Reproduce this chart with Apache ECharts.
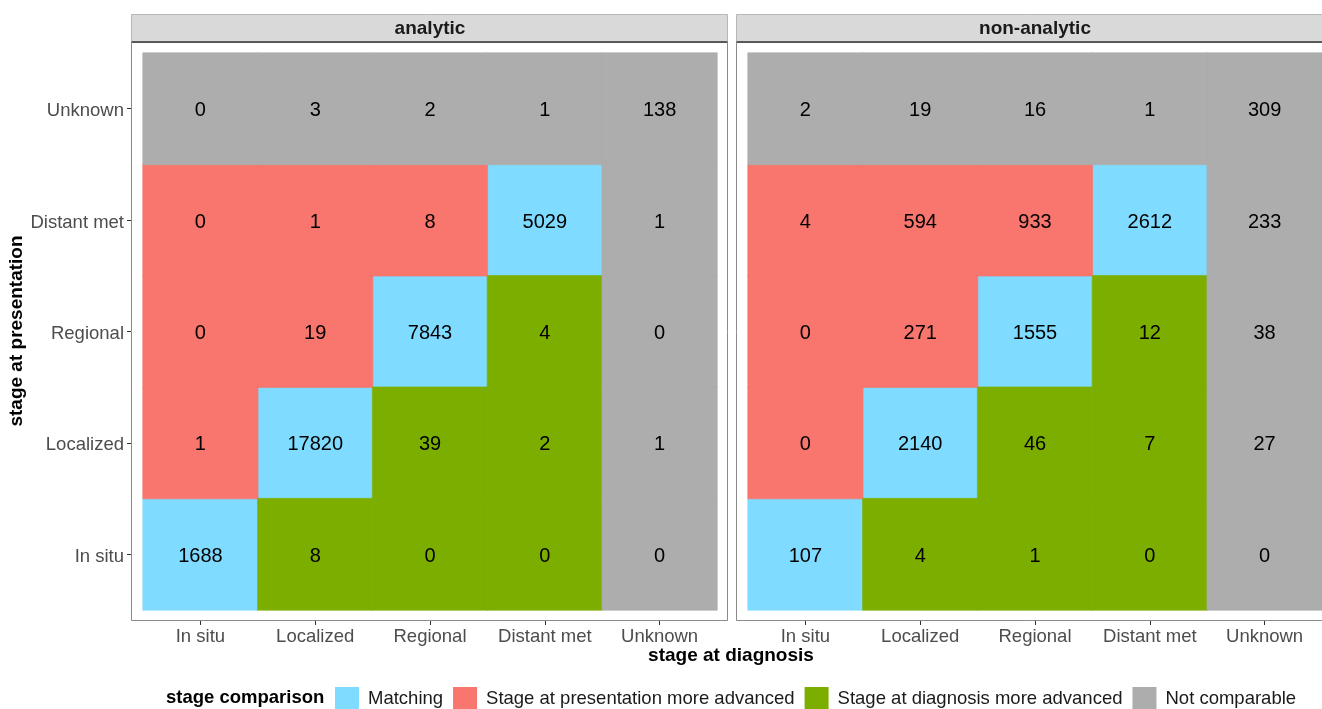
<!DOCTYPE html>
<html>
<head>
<meta charset="utf-8">
<script src="https://cdn.jsdelivr.net/npm/echarts@6/dist/echarts.min.js"></script>
<style>
  html, body { margin: 0; padding: 0; background: #fff; }
  #chart { width: 1322px; height: 709px; }
</style>
</head>
<body>
<div id="chart"></div>
<script>
var stages = ['In situ', 'Localized', 'Regional', 'Distant met', 'Unknown'];
var panels = ['analytic', 'non-analytic'];

// rows = stage at presentation (In situ .. Unknown), cols = stage at diagnosis
var analyticCounts = [
  [1688, 8, 0, 0, 0],
  [1, 17820, 39, 2, 1],
  [0, 19, 7843, 4, 0],
  [0, 1, 8, 5029, 1],
  [0, 3, 2, 1, 138]
];
var nonAnalyticCounts = [
  [107, 4, 1, 0, 0],
  [0, 2140, 46, 7, 27],
  [0, 271, 1555, 12, 38],
  [4, 594, 933, 2612, 233],
  [2, 19, 16, 1, 309]
];

var groups = ['Matching', 'Stage at presentation more advanced', 'Stage at diagnosis more advanced', 'Not comparable'];
var groupColors = ['#7FDBFF', '#F8766D', '#7CAE00', '#ADADAD'];

var FONT = '"Liberation Sans", Arial, sans-serif';

function groupOf(x, y) {
  if (x == 4 || y == 4) return 3;
  if (x == y) return 0;
  if (y > x) return 1;
  return 2;
}

var chart = echarts.init(document.getElementById('chart'));

var gridBoxes = [
  {left: 143, top: 53, width: 574, height: 557},
  {left: 748, top: 53, width: 574, height: 557}
];

var xAxes = [], yAxes = [], series = [];
[analyticCounts, nonAnalyticCounts].forEach(function(counts, p) {
  xAxes.push({
    gridIndex: p,
    type: 'category',
    data: stages,
    offset: 11,
    axisLine: {show: false},
    axisTick: {show: true, alignWithLabel: true, length: 4, lineStyle: {color: '#333', width: 1}},
    axisLabel: {color: '#4d4d4d', fontSize: 18.5, fontFamily: FONT, margin: 6, interval: 0, hideOverlap: false},
    splitLine: {show: false}
  });
  yAxes.push({
    gridIndex: p,
    type: 'category',
    data: stages,
    offset: 12,
    axisLine: {show: false},
    axisTick: {show: p == 0, alignWithLabel: true, length: 4, lineStyle: {color: '#333', width: 1}},
    axisLabel: {
      show: p == 0, interval: 0, margin: 7,
      formatter: function(v) { return '{t|' + v + '}'; },
      rich: {t: {color: '#4d4d4d', fontSize: 18.5, fontFamily: FONT, padding: [5, 0, 0, 0]}}
    },
    splitLine: {show: false}
  });
  groups.forEach(function(g, gi) {
    var data = [];
    counts.forEach(function(row, y) {
      row.forEach(function(v, x) {
        if (groupOf(x, y) == gi) data.push([x, y, v]);
      });
    });
    series.push({
      name: g,
      type: 'heatmap',
      xAxisIndex: p,
      yAxisIndex: p,
      data: data,
      itemStyle: {color: groupColors[gi], borderColor: groupColors[gi], borderWidth: 0.6},
      emphasis: {disabled: true},
      label: {
        show: true,
        color: '#000',
        fontSize: 20,
        fontFamily: FONT,
        offset: [0, 2],
        formatter: function(d) { return d.value[2]; }
      }
    });
  });
});

var graphics = [];
var frames = [
  {x: 131.5, w: 596},
  {x: 736.5, w: 596}
];
frames.forEach(function(f, i) {
  graphics.push({
    type: 'rect', shape: {x: f.x, y: 42.5, width: f.w, height: 578},
    style: {fill: null, stroke: '#8a8a8a', lineWidth: 1}, z: 10
  });
  graphics.push({
    type: 'rect', shape: {x: f.x, y: 14.5, width: f.w, height: 28},
    style: {fill: '#d9d9d9', stroke: '#b8b8b8', lineWidth: 1}, z: 10
  });
  graphics.push({
    type: 'line', shape: {x1: f.x, y1: 42, x2: f.x + f.w, y2: 42},
    style: {stroke: '#333', lineWidth: 1.5}, z: 11
  });
  graphics.push({
    type: 'text', x: gridBoxes[i].left + gridBoxes[i].width / 2, y: 28.5,
    style: {text: panels[i], fill: '#1a1a1a', font: 'bold 19px ' + FONT, textAlign: 'center', textVerticalAlign: 'middle'},
    z: 12
  });
});
graphics.push({
  type: 'text', x: 731, y: 656,
  style: {text: 'stage at diagnosis', fill: '#000', font: 'bold 19px ' + FONT, textAlign: 'center', textVerticalAlign: 'middle'}
});
graphics.push({
  type: 'text', x: 17, y: 331, rotation: Math.PI / 2,
  style: {text: 'stage at presentation', fill: '#000', font: 'bold 19px ' + FONT, textAlign: 'center', textVerticalAlign: 'middle'}
});
graphics.push({
  type: 'text', x: 166, y: 698,
  style: {text: 'stage comparison', fill: '#000', font: 'bold 18.5px ' + FONT, textAlign: 'left', textVerticalAlign: 'middle'}
});

chart.setOption({
  animation: false,
  backgroundColor: '#fff',
  grid: gridBoxes,
  xAxis: xAxes,
  yAxis: yAxes,
  legend: {
    data: groups,
    left: 335,
    top: 687,
    padding: 0,
    orient: 'horizontal',
    icon: 'rect',
    itemWidth: 22,
    itemHeight: 22,
    itemGap: 10,
    selectedMode: false,
    textStyle: {color: '#1a1a1a', fontSize: 18.5, fontFamily: FONT, padding: [0, 0, 0, 5]}
  },
  graphic: graphics,
  series: series
});
</script>
</body>
</html>
